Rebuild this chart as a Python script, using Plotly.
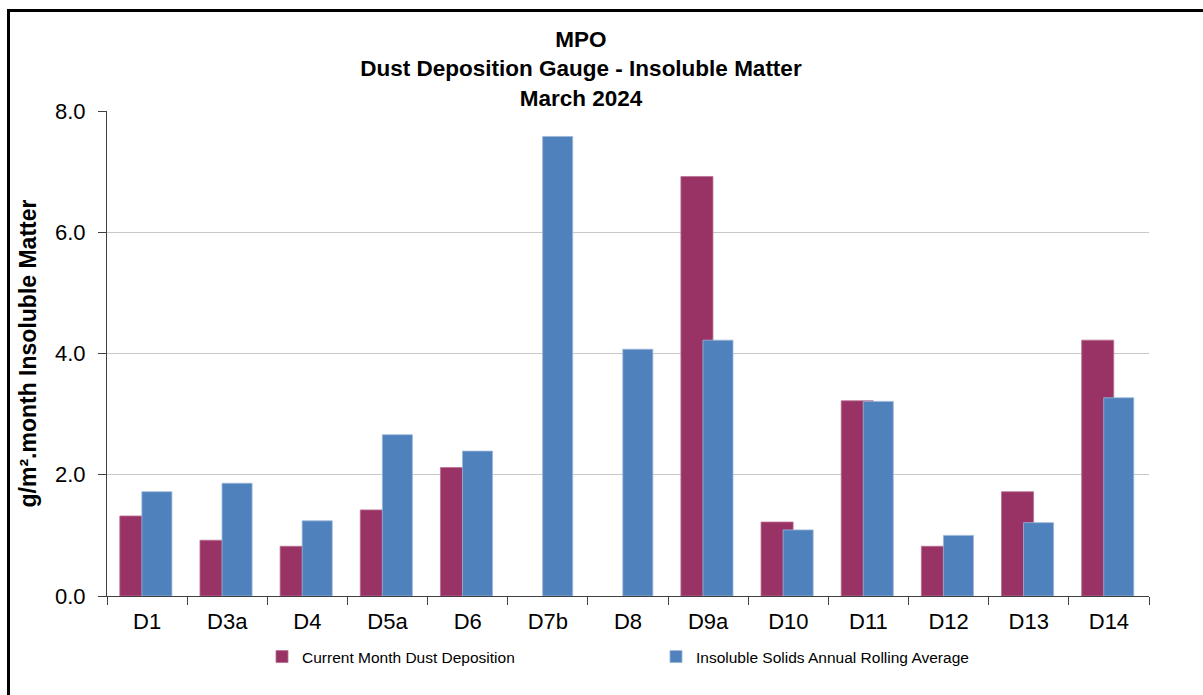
import plotly.graph_objects as go

categories = ["D1", "D3a", "D4", "D5a", "D6", "D7b", "D8", "D9a", "D10", "D11", "D12", "D13", "D14"]
current_month = [1.32, 0.92, 0.82, 1.42, 2.12, None, None, 6.92, 1.22, 3.22, 0.82, 1.72, 4.22]
rolling_avg = [1.72, 1.86, 1.24, 2.66, 2.39, 7.58, 4.07, 4.22, 1.09, 3.21, 1.00, 1.21, 3.27]
y_ticks = [0, 2, 4, 6, 8]
y_tick_labels = ["0.0", "2.0", "4.0", "6.0", "8.0"]

RED = "#993366"
BLUE = "#4F81BD"
FONT = "Liberation Sans, Arial, sans-serif"

fig = go.Figure()
fig.add_trace(go.Bar(
    x=categories, y=current_month, name="Current Month Dust Deposition",
    marker=dict(color=RED, line=dict(color="#b8708f", width=0.8)),
    offset=-0.34, width=0.40,
))
fig.add_trace(go.Bar(
    x=categories, y=rolling_avg, name="Insoluble Solids Annual Rolling Average",
    marker=dict(color=BLUE, line=dict(color="#9db6d8", width=0.8)),
    offset=-0.065, width=0.375,
))

fig.update_layout(
    width=1203, height=695,
    margin=dict(l=107, r=54, t=111, b=99),
    paper_bgcolor="white", plot_bgcolor="white",
    barmode="overlay",
    font=dict(family=FONT, color="black"),
    title=dict(
        text="<b>MPO</b><br><b>Dust Deposition Gauge - Insoluble Matter</b><br><b>March 2024</b>",
        x=581 / 1203, xanchor="center", xref="container",
        y=1 - 47 / 695, yanchor="top", yref="container",
        font=dict(size=22.5, family=FONT, color="black"),
    ),
    xaxis=dict(
        type="category", range=[-0.5, 12.5],
        showline=True, linecolor="#404040", linewidth=1.2,
        ticks="outside", ticklen=8, tickcolor="#404040", tickson="boundaries",
        tickfont=dict(size=22, family=FONT, color="black"),
        ticklabelstandoff=5,
        showgrid=False,
    ),
    yaxis=dict(
        range=[0, 8], tickvals=y_ticks, ticktext=y_tick_labels,
        showline=True, linecolor="#404040", linewidth=1.2,
        ticks="outside", ticklen=8, tickcolor="#404040",
        tickfont=dict(size=22, family=FONT, color="black"),
        ticklabelstandoff=8,
        showgrid=True, gridcolor="#c8c8c8", gridwidth=1,
        zeroline=False,
        title=dict(text="<b>g/m².month Insoluble Matter</b>", font=dict(size=23, family=FONT, color="black"), standoff=11),
    ),
    legend=dict(
        orientation="h", x=(262 - 107) / 1042, xanchor="left",
        y=(596 - 657) / 485, yanchor="middle",
        font=dict(size=15.5, family=FONT, color="black"),
        entrywidth=349, entrywidthmode="pixels",
        itemwidth=30, bgcolor="rgba(0,0,0,0)",
    ),
    showlegend=True,
)

# outer frame (decoration)
fig.add_shape(type="rect", xref="paper", yref="paper",
              x0=(8.5 - 107) / 1042, x1=1.2, y0=-0.3, y1=(596 - 10.5) / 485,
              line=dict(color="black", width=3), fillcolor="rgba(0,0,0,0)", layer="above")

fig.write_html("out.html", config={"displayModeBar": False},
               post_script="document.body.style.margin='0';document.body.style.overflow='hidden';")
